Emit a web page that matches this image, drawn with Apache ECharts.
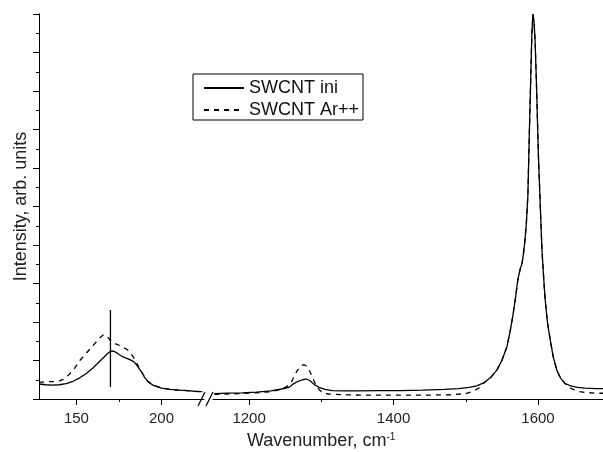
<!DOCTYPE html>
<html>
<head>
<meta charset="utf-8">
<script src="https://cdn.jsdelivr.net/npm/echarts@6/dist/echarts.min.js"></script>
<style>html,body{margin:0;padding:0;background:#fff}#c{width:603px;height:452px}</style>
</head>
<body>
<div id="c"></div>
<script>
// ---- data ----
const lowIniX = [128,132,136,140,144,148,152,156,160,163,166,168,170,172,174,176,178,180,182,184,186,188,190,192,195,200,205,210,215,220,224];
const lowIniY = [0.39,0.37,0.36,0.37,0.40,0.46,0.55,0.67,0.82,0.95,1.08,1.17,1.24,1.24,1.19,1.13,1.08,1.05,1.01,0.96,0.85,0.72,0.57,0.45,0.36,0.28,0.25,0.23,0.22,0.20,0.19];
const lowArX = [128,132,136,140,143,146,149,152,155,158,161,164,166,168,170,172,176,180,183,185,187,190,192,195,200,205,210,215,220,224];
const lowArY = [0.43,0.45,0.45,0.47,0.52,0.65,0.80,1.00,1.15,1.30,1.45,1.60,1.67,1.63,1.52,1.45,1.38,1.28,1.12,0.97,0.80,0.58,0.46,0.36,0.29,0.25,0.23,0.22,0.20,0.19];
const hiIniX = [1152,1170,1190,1210,1230,1245,1255,1262,1268,1274,1279,1284,1290,1297,1305,1315,1330,1350,1380,1410,1440,1470,1490,1505,1515,1524,1534,1543,1550,1557,1561,1565,1569,1572,1575,1578,1580,1582,1584,1586,1588,1590,1591.5,1593,1594.5,1596,1598,1600.5,1603,1605.5,1608,1610,1613,1617,1621,1626,1631,1637,1645,1655,1665,1680,1690];
const hiIniY = [0.14,0.15,0.16,0.18,0.21,0.26,0.30,0.40,0.46,0.50,0.52,0.48,0.38,0.30,0.25,0.22,0.21,0.21,0.22,0.22,0.23,0.25,0.27,0.30,0.34,0.41,0.55,0.75,1.00,1.36,1.72,2.14,2.65,3.09,3.35,3.53,3.80,4.13,4.60,5.30,6.90,8.36,9.50,10.00,9.80,9.30,8.10,6.36,5.10,3.87,3.10,2.57,2.00,1.53,1.10,0.75,0.55,0.41,0.34,0.30,0.28,0.27,0.27];
const hiArX = [1152,1170,1190,1210,1230,1245,1252,1258,1262,1267,1272,1276,1280,1284,1288,1292,1297,1303,1310,1330,1360,1400,1440,1480,1500,1510,1518,1524,1534,1543,1550,1557,1561,1565,1569,1572,1575,1578,1580,1582,1584,1586,1588,1590,1591.5,1593,1594.5,1596,1598,1600.5,1603,1605.5,1608,1610,1613,1617,1621,1626,1631,1637,1645,1655,1665,1680,1690];
const hiArY = [0.12,0.13,0.14,0.16,0.19,0.25,0.32,0.42,0.58,0.75,0.87,0.89,0.85,0.72,0.55,0.38,0.24,0.15,0.13,0.11,0.10,0.10,0.10,0.11,0.14,0.20,0.28,0.40,0.55,0.75,1.00,1.36,1.72,2.14,2.65,3.09,3.35,3.53,3.80,4.13,4.60,5.30,6.90,8.36,9.50,10.00,9.80,9.30,8.10,6.36,5.10,3.87,3.10,2.57,2.00,1.53,1.10,0.75,0.55,0.41,0.28,0.20,0.17,0.15,0.15];
const markerX = [170,170];
const markerY = [0.31,2.31];
const lowTicks = [150,200];
const lowMinor = [175];
const hiTicks = [1200,1400,1600];
const hiMinor = [1300,1500];
const names = ['SWCNT ini','SWCNT Ar++'];

const zip = (xs, ys) => xs.map((x, i) => [x, ys[i]]);
const FONT = 'Liberation Sans, Arial, sans-serif';
const solid = {color:'#000', width:1.3, type:'solid'};
const dashed = {color:'#000', width:1.3, type:[5,5]};

function mainX(grid, min, max, ticks){
  return {type:'value', gridIndex:grid, min:min, max:max, position:'bottom',
    axisLine:{show:true, onZero:false, lineStyle:{color:'#000', width:1}},
    axisTick:{show:true, customValues:ticks, length:6, lineStyle:{color:'#000'}},
    axisLabel:{show:true, customValues:ticks, fontSize:15, color:'#222', fontFamily:FONT, margin:12,
      formatter:(v) => String(v)},
    splitLine:{show:false}};
}
function minorX(grid, min, max, ticks){
  return {type:'value', gridIndex:grid, min:min, max:max, position:'bottom', offset:0,
    axisLine:{show:false, onZero:false},
    axisTick:{show:true, customValues:ticks, length:3, lineStyle:{color:'#000'}},
    axisLabel:{show:false}, splitLine:{show:false}};
}

const chart = echarts.init(document.getElementById('c'), null, {renderer:'canvas'});
chart.setOption({
  animation:false,
  backgroundColor:'#fff',
  grid:[
    {left:39, top:14, width:165, height:385},
    {left:213, top:14, width:390, height:385}
  ],
  xAxis:[
    mainX(0,128,225,lowTicks),
    mainX(1,1150,1690,hiTicks),
    minorX(0,128,225,lowMinor),
    minorX(1,1150,1690,hiMinor)
  ],
  yAxis:[
    {type:'value', gridIndex:0, min:0, max:10, interval:1,
     name:'Intensity, arb. units', nameLocation:'middle', nameGap:9,
     nameTextStyle:{fontSize:18, color:'#222', fontFamily:FONT},
     axisLine:{show:true, lineStyle:{color:'#000', width:1}},
     axisTick:{show:true, length:6, lineStyle:{color:'#000'}},
     minorTick:{show:true, splitNumber:2, length:3, lineStyle:{color:'#000'}},
     axisLabel:{show:false}, splitLine:{show:false}},
    {type:'value', gridIndex:1, min:0, max:10, interval:1, show:false, splitLine:{show:false}}
  ],
  legend:{
    data:names, orient:'vertical', left:193, top:74,
    padding:[5,4,1,10], itemGap:4, itemWidth:40, itemHeight:14,
    borderColor:'#000', borderWidth:1, borderRadius:0,
    itemStyle:{color:'rgba(0,0,0,0)', borderColor:'rgba(0,0,0,0)', borderWidth:0, opacity:0},
    textStyle:{fontSize:18, color:'#111', fontFamily:FONT}
  },
  graphic:[
    {type:'line', shape:{x1:198, y1:406, x2:205, y2:392}, style:{stroke:'#000', lineWidth:1.2}},
    {type:'line', shape:{x1:206, y1:406, x2:213, y2:392}, style:{stroke:'#000', lineWidth:1.2}},
    {type:'text', left:247, top:432, style:{
      text:'Wavenumber, cm{s|-1}', fontSize:18, fill:'#222', fontFamily:FONT,
      rich:{s:{fontSize:10, verticalAlign:'top', padding:[0,0,9,0], fill:'#222', fontFamily:FONT}}}}
  ],
  series:[
    {name:names[0], type:'line', xAxisIndex:0, yAxisIndex:0, data:zip(lowIniX, lowIniY), showSymbol:false, symbol:'none', lineStyle:solid, itemStyle:{color:'#000'}},
    {name:names[1], type:'line', xAxisIndex:0, yAxisIndex:0, data:zip(lowArX, lowArY), showSymbol:false, symbol:'none', lineStyle:dashed, itemStyle:{color:'#000'}},
    {name:names[0], type:'line', xAxisIndex:1, yAxisIndex:1, data:zip(hiIniX, hiIniY), showSymbol:false, symbol:'none', lineStyle:solid, itemStyle:{color:'#000'}},
    {name:names[1], type:'line', xAxisIndex:1, yAxisIndex:1, data:zip(hiArX, hiArY), showSymbol:false, symbol:'none', lineStyle:dashed, itemStyle:{color:'#000'}},
    {name:'marker', type:'line', xAxisIndex:0, yAxisIndex:0, data:zip(markerX, markerY), showSymbol:false, symbol:'none', lineStyle:{color:'#000', width:1.3}, itemStyle:{color:'#000'}}
  ]
});
</script>
</body>
</html>
